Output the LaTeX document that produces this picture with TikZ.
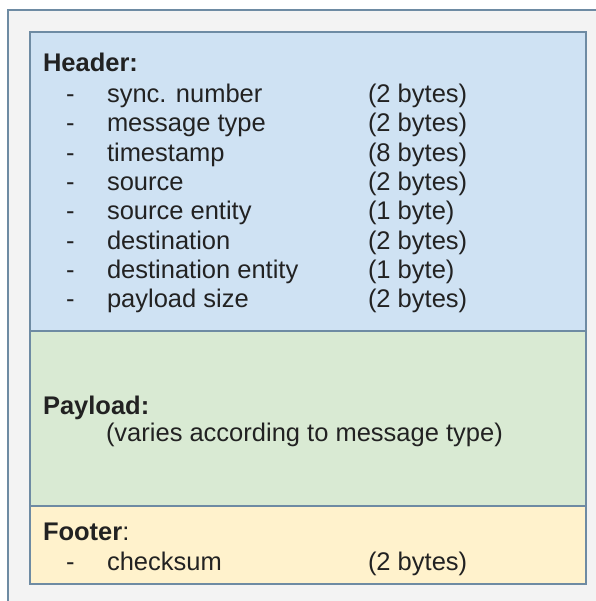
\documentclass[tikz,border=0pt]{standalone}
\usepackage{fontspec}
\setmainfont{Liberation Sans}
\usepackage{tikz}

\definecolor{paper}{HTML}{F3F3F3}
\definecolor{edge}{HTML}{6E8BA3}
\definecolor{headerblue}{HTML}{CFE2F3}
\definecolor{payloadgreen}{HTML}{D9EAD3}
\definecolor{footeryellow}{HTML}{FFF2CC}
\definecolor{ink}{HTML}{222222}

\begin{document}
\begin{tikzpicture}
  [x=1pt,y=-1pt,inner sep=0pt,outer sep=0pt,
   part/.style={draw=edge,line width=1.2pt,minimum width=556pt,anchor=north west},
   txt/.style={anchor=base west,text=ink,font=\fontsize{25.5}{30}\selectfont},
   heading/.style={txt,font=\fontsize{25.5}{30}\selectfont\bfseries}]
  \useasboundingbox (0,0) rectangle (595,601);
  \fill [white] (0,0) rectangle (595,601);
  \draw [fill=paper,draw=edge,line width=1.2pt] (8,10) rectangle (640,640);
  \node at (30,32) (header) [part,fill=headerblue,minimum height=299pt] {};
  \node at (30,331) (payload) [part,fill=payloadgreen,minimum height=175pt] {};
  \node at (30,506) (footer) [part,fill=footeryellow,minimum height=78pt] {};
  % header fields
  \node at (43,71.5) (htitle) [heading] {Header:};
  \foreach \f/\b [count=\i] in {sync. number/2 bytes, message type/2 bytes,
      timestamp/8 bytes, source/2 bytes, source entity/1 byte,
      destination/2 bytes, destination entity/1 byte, payload size/2 bytes}
  {
    \node at (66,73+29.35*\i) (dash\i) [txt] {-};
    \node at (107,73+29.35*\i) (field\i) [txt] {\f};
    \node at (368,73+29.35*\i) (size\i) [txt] {(\b)};
  }
  % payload
  \node at (43,414) (ptitle) [heading] {Payload:};
  \node at (106,441) (pnote) [txt] {(varies according to message type)};
  % footer
  \node at (43,540) (ftitle) [txt] {\textbf{Footer}:};
  \node at (66,570) (fdash) [txt] {-};
  \node at (107,570) (ffield) [txt] {checksum};
  \node at (368,570) (fsize) [txt] {(2 bytes)};
\end{tikzpicture}
\end{document}
